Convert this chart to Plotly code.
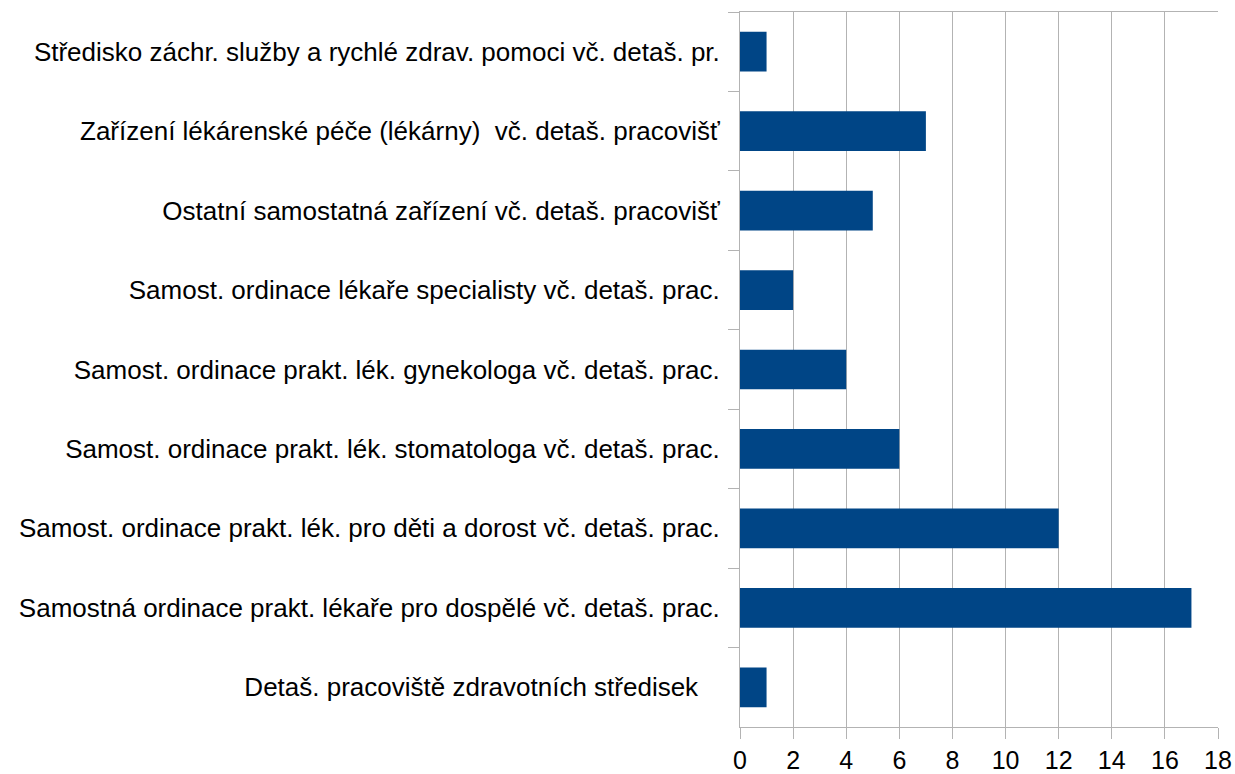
import plotly.graph_objects as go

categories = [
    "Středisko záchr. služby a rychlé zdrav. pomoci vč. detaš. pr.",
    "Zařízení lékárenské péče (lékárny)\u00a0 vč. detaš. pracovišť",
    "Ostatní samostatná zařízení vč. detaš. pracovišť",
    "Samost. ordinace lékaře specialisty vč. detaš. prac.",
    "Samost. ordinace prakt. lék. gynekologa vč. detaš. prac.",
    "Samost. ordinace prakt. lék. stomatologa vč. detaš. prac.",
    "Samost. ordinace prakt. lék. pro děti a dorost vč. detaš. prac.",
    "Samostná ordinace prakt. lékaře pro dospělé vč. detaš. prac.",
    "Detaš. pracoviště zdravotních středisek\u00a0\u00a0\u00a0",
]
values = [1, 7, 5, 2, 4, 6, 12, 17, 1]
x_ticks = [0, 2, 4, 6, 8, 10, 12, 14, 16, 18]

fig = go.Figure(go.Bar(
    x=values, y=categories, orientation="h",
    marker=dict(color="#004586", line=dict(width=0)),
))

grid = "#b3b3b3"
fig.update_layout(
    width=1235, height=774,
    margin=dict(l=740, r=17, t=12, b=47),
    paper_bgcolor="white", plot_bgcolor="white",
    font=dict(family="Liberation Sans, Arial, sans-serif", size=26, color="black"),
    bargap=0.5,
    showlegend=False,
    xaxis=dict(
        range=[0, 18], tickvals=x_ticks, showgrid=True, gridcolor=grid, gridwidth=1,
        showline=True, linecolor=grid, linewidth=1, mirror=True,
        ticks="outside", ticklen=11, tickcolor=grid, zeroline=False,
        tickfont=dict(size=25), automargin=False,
    ),
    yaxis=dict(
        autorange="reversed", showgrid=False,
        showline=True, linecolor=grid, linewidth=1,
        ticks="outside", ticklen=11, tickcolor=grid, tickson="boundaries",
        ticklabelstandoff=14, automargin=False,
    ),
)

fig.write_html(
    "out.html",
    config={"displayModeBar": False},
    post_script="document.body.style.margin='0';document.body.style.overflow='hidden';",
)
